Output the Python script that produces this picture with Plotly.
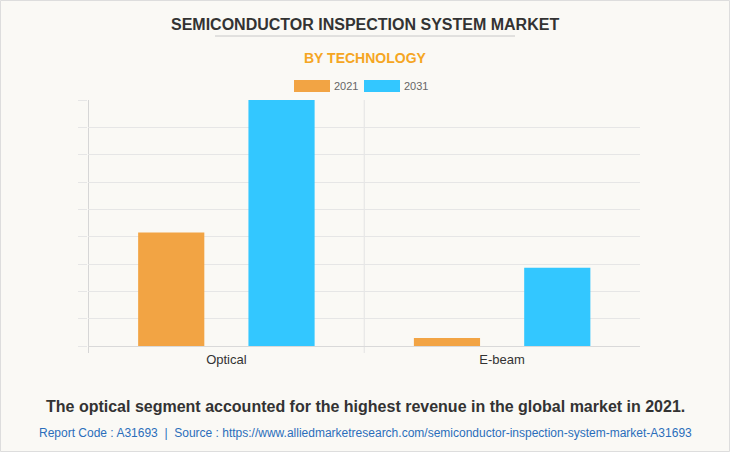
import plotly.graph_objects as go

categories = ["Optical", "E-beam"]
series_names = ["2021", "2031"]
values_2021 = [4.15, 0.29]
values_2031 = [9.0, 2.86]
colors = ["#F2A444", "#33C7FF"]

title = "SEMICONDUCTOR INSPECTION SYSTEM MARKET"
subtitle = "BY TECHNOLOGY"
footer = "The optical segment accounted for the highest revenue in the global market in 2021."
source = "Report Code : A31693  |  Source : https://www.alliedmarketresearch.com/semiconductor-inspection-system-market-A31693"

W, H = 730, 452
L, R, T, B = 88, 90, 100, 106
PW = W - L - R
PH = H - T - B


def px(x):
    return (x - L) / PW


def py(y):
    return (H - B - y) / PH


fig = go.Figure()
for name, vals, col in zip(series_names, [values_2021, values_2031], colors):
    fig.add_trace(go.Bar(x=categories, y=vals, name=name, marker=dict(color=col, line=dict(width=0)),
                         showlegend=False))

font = "Liberation Sans, Arial, sans-serif"
shapes = []
annotations = []

# title, underline, subtitle
annotations.append(dict(text="<b>%s</b>" % title, x=px(365), y=py(24), xref="paper", yref="paper",
                        showarrow=False, xanchor="center", yanchor="middle",
                        font=dict(family=font, size=16, color="#333333")))
shapes.append(dict(type="line", xref="paper", yref="paper", x0=px(215), x1=px(515), y0=py(36), y1=py(36),
                   line=dict(color="#c8c8c8", width=1)))
annotations.append(dict(text="<b>%s</b>" % subtitle, x=px(365), y=py(58), xref="paper", yref="paper",
                        showarrow=False, xanchor="center", yanchor="middle",
                        font=dict(family=font, size=14, color="#F5A623")))

# legend
leg_x = [294, 364]
for name, col, lx in zip(series_names, colors, leg_x):
    shapes.append(dict(type="rect", xref="paper", yref="paper", x0=px(lx), x1=px(lx + 36),
                       y0=py(92), y1=py(80), fillcolor=col, line=dict(width=0)))
    annotations.append(dict(text=name, x=px(lx + 38), y=py(86), xref="paper", yref="paper",
                            showarrow=False, xanchor="left", yanchor="middle",
                            font=dict(family=font, size=11, color="#666666")))

# vertical category boundary lines
for xb, c in [(-0.5, "#d6d6d6"), (0.5, "#e3e3e3")]:
    shapes.append(dict(type="line", xref="x", yref="paper", x0=xb, x1=xb, y0=py(353), y1=1,
                       line=dict(color=c, width=1), layer="below"))

# footer
annotations.append(dict(text="<b>%s</b>" % footer, x=px(365), y=py(406), xref="paper", yref="paper",
                        showarrow=False, xanchor="center", yanchor="middle",
                        font=dict(family=font, size=16, color="#333333")))
annotations.append(dict(text=source, x=px(365), y=py(433), xref="paper", yref="paper",
                        showarrow=False, xanchor="center", yanchor="middle",
                        font=dict(family=font, size=12, color="#2A6EBB")))

# border
shapes.append(dict(type="rect", xref="paper", yref="paper", x0=px(0.5), x1=px(729.5), y0=py(451.5), y1=py(0.5),
                   line=dict(color="#dddddd", width=1), fillcolor="rgba(0,0,0,0)", layer="below"))

fig.update_layout(
    width=W, height=H,
    margin=dict(l=L, r=R, t=T, b=B),
    paper_bgcolor="#FAF9F5", plot_bgcolor="#FAF9F5",
    barmode="group", bargap=0.2, bargroupgap=0.4,
    shapes=shapes, annotations=annotations,
    xaxis=dict(showgrid=False, showline=False, ticks="", ticklabelstandoff=4,
               tickfont=dict(family=font, size=13, color="#333333"), fixedrange=True),
    yaxis=dict(range=[0, 9], dtick=1, showticklabels=False, showgrid=True, gridcolor="#e6e6e6",
               ticks="outside", ticklen=9, tickcolor="#e6e6e6", zeroline=True, zerolinecolor="#d9d9d9",
               zerolinewidth=1, showline=False, fixedrange=True),
)

fig.write_html("out.html", config={"displayModeBar": False},
               post_script="document.body.style.margin='0px';document.body.style.overflow='hidden';")
